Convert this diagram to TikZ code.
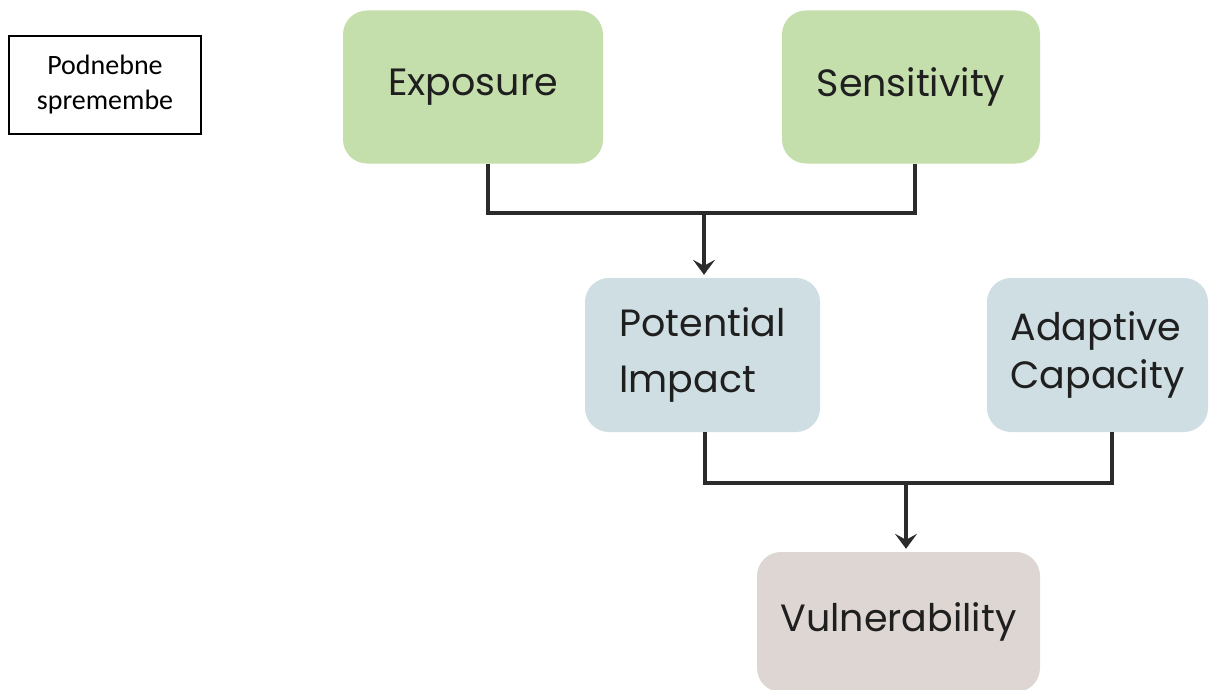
\documentclass[tikz,border=0pt]{standalone}
\usepackage{fontspec}
\setmainfont{Poppins}
\newfontfamily\notefont{Carlito}
\usetikzlibrary{arrows.meta}
\definecolor{expgreen}{HTML}{C5DFAC}
\definecolor{impblue}{HTML}{CFDEE3}
\definecolor{vulbeige}{HTML}{DDD6D3}
\definecolor{inkdark}{HTML}{1F1F1F}
\definecolor{linedark}{HTML}{2B2B2B}

\begin{document}
\begin{tikzpicture}[
          x=1pt, y=-1pt,
          factor/.style={rounded corners=24pt, inner sep=0pt, text=inkdark,
                         font=\fontsize{38}{54}\selectfont},
          green/.style={factor, fill=expgreen, minimum height=153pt},
          blue/.style={factor, fill=impblue, minimum height=154pt,
                       align=left},
          beige/.style={factor, fill=vulbeige},
          note/.style={draw=black, line width=1.8pt, inner sep=0pt,
                       minimum width=192pt, minimum height=98pt,
                       align=center, font=\notefont\fontsize{28}{35}\selectfont},
          link/.style={draw=linedark, line width=3.5pt},
          arr/.style={link, -{Stealth[length=15pt, width=22pt, inset=6pt]},
                      shorten >=3pt}
        ]
          \useasboundingbox (0,0) rectangle (1209,690);
          \node[note] (clim) at (105,85) {Podnebne\\spremembe};
          \node[green, minimum width=260pt] (expo) at (473,87)   {Exposure};
          \node[green, minimum width=258pt] (sens) at (911,87)   {Sensitivity};
          \node[blue, minimum width=235pt, font=\fontsize{38}{56}\selectfont]
            (pot) at (702.5,355) {Potential\\Impact};
          \node[blue, minimum width=221pt, font=\fontsize{38}{48}\selectfont]
            (adap) at (1097.5,355) {Adaptive\\Capacity};
          \node[beige, minimum width=283pt, minimum height=140pt]
            (vuln) at (898.5,622) {Vulnerability};
          \coordinate (j1) at (704,213);
          \coordinate (j2) at (906,483);
          \draw[link] ([xshift=15pt]expo.south) |- (j1) -| ([xshift=4pt]sens.south);
          \draw[arr] (j1) -- (j1 |- pot.north);
          \draw[link] ([xshift=2.5pt]pot.south) |- (j2) -| ([xshift=14.5pt]adap.south);
          \draw[arr] (j2) -- (j2 |- vuln.north);
        \end{tikzpicture}
\end{document}
